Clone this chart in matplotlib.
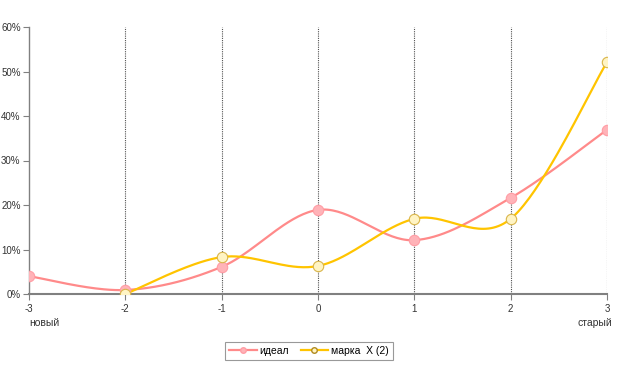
import numpy as np
import matplotlib
matplotlib.use("Agg")
import matplotlib.pyplot as plt
from matplotlib.lines import Line2D

plt.rcParams['font.family'] = ['Liberation Sans', 'DejaVu Sans']

x_ideal = [-3, -2, -1, 0, 1, 2, 3]
ideal = [4.0, 0.9, 6.1, 18.9, 12.1, 21.6, 36.9]
x_mark = [-2, -1, 0, 1, 2, 3]
mark = [0.0, 8.3, 6.3, 16.9, 16.9, 52.1]
xticks = [-3, -2, -1, 0, 1, 2, 3]
yticks = [0, 10, 20, 30, 40, 50, 60]
series_names = ['идеал', 'марка  X (2)']
end_labels = ['новый', 'старый']


def smooth(xs, ys, n=40):
    xs = np.asarray(xs, float)
    ys = np.asarray(ys, float)
    P = np.column_stack([xs, ys])
    out = [P[0]]
    m = len(P)
    for i in range(m - 1):
        p0 = P[i - 1] if i > 0 else P[i]
        p1 = P[i]
        p2 = P[i + 1]
        p3 = P[i + 2] if i + 2 < m else P[i + 1]
        c1 = p1 + (p2 - p0) / 6.0
        c2 = p2 - (p3 - p1) / 6.0
        t = np.linspace(0, 1, n)[1:, None]
        seg = ((1 - t) ** 3) * p1 + 3 * ((1 - t) ** 2) * t * c1 + 3 * (1 - t) * t ** 2 * c2 + t ** 3 * p2
        out.extend(seg)
    out = np.array(out)
    return out[:, 0], out[:, 1]


fig = plt.figure(figsize=(6.19, 3.68), dpi=100)
ax = fig.add_axes([29 / 619, 1 - 294 / 368, (607 - 29) / 619, (294 - 27) / 368])

for xv in xticks[1:]:
    ax.axvline(xv, color='#505050', lw=0.8, ls=(0, (1.0, 1.0)), zorder=1)

sx, sy = smooth(x_ideal, ideal)
ax.plot(sx, sy, color='#FF8A8A', lw=1.6, zorder=3, solid_capstyle='round')
ax.plot(x_ideal, ideal, ls='none', marker='o', ms=7.5, mfc='#FFB3B8', mec='#FF9DA5', mew=0.8, zorder=4)

sx, sy = smooth(x_mark, mark)
ax.plot(sx, sy, color='#FFC400', lw=1.6, zorder=3, solid_capstyle='round')
ax.plot(x_mark, mark, ls='none', marker='o', ms=7.5, mfc='#FFF4C4', mec='#D9B54A', mew=0.8, zorder=5)

ax.set_xlim(-3, 3)
ax.set_ylim(0, 60)
ax.set_xticks(xticks)
ax.set_xticklabels([str(v) for v in xticks])
ax.set_yticks(yticks)
ax.set_yticklabels([f'{v}%' for v in yticks])
for s in ['top', 'right']:
    ax.spines[s].set_visible(False)
ax.spines['left'].set_color('#808080')
ax.spines['bottom'].set_color('#808080')
ax.spines['left'].set_linewidth(1.0)
ax.spines['bottom'].set_linewidth(1.5)
ax.tick_params(axis='both', colors='#808080', labelcolor='#333333', labelsize=7, length=4, width=0.8, direction='out')
ax.tick_params(axis='x', pad=3)
ax.tick_params(axis='y', pad=2)

fig.text(29 / 619, 1 - 323 / 368, end_labels[0], ha='left', va='center', fontsize=7.5, color='#333333')
fig.text(612 / 619, 1 - 323 / 368, end_labels[1], ha='right', va='center', fontsize=7.5, color='#333333')

h1 = Line2D([], [], color='#FF8A8A', lw=1.6, marker='o', ms=4, mfc='#FFB3B8', mec='#FF9DA5')
h2 = Line2D([], [], color='#FFC400', lw=1.6, marker='o', ms=4, mfc='#FFF4C4', mec='#B08A20')
leg = fig.legend([h1, h2], series_names, loc='center', bbox_to_anchor=(309 / 619, 1 - 351 / 368),
                 ncol=2, fontsize=7.5, frameon=True, fancybox=False, handlelength=2.6,
                 borderpad=0.4, columnspacing=1.1, handletextpad=0.3)
leg.get_frame().set_edgecolor('#808080')
leg.get_frame().set_linewidth(0.8)

fig.savefig('out.png', dpi=100)
